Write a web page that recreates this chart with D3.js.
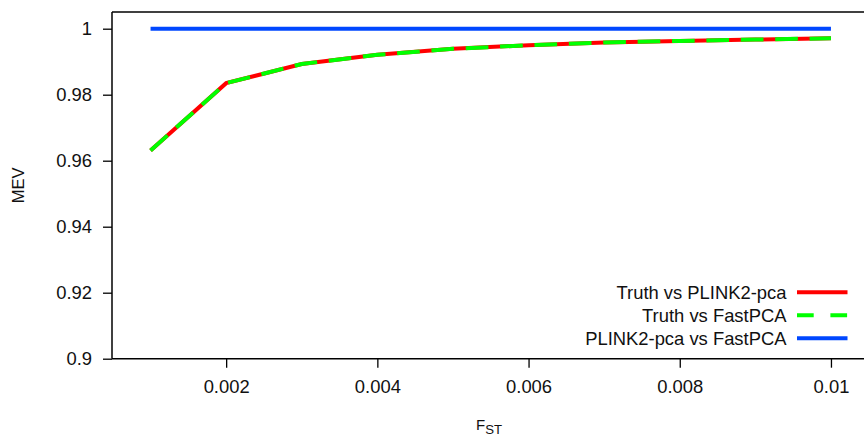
<!DOCTYPE html>
<html>
<head>
<meta charset="utf-8">
<script src="https://cdn.jsdelivr.net/npm/d3@7"></script>
<style>
  html, body { margin: 0; padding: 0; background: #fff; }
  svg { display: block; font-family: "Liberation Sans", Arial, Helvetica, sans-serif; }
</style>
</head>
<body>
<svg id="chart" width="864" height="437"></svg>
<script>
// F_ST values on the x axis
const fst = [0.001, 0.002, 0.003, 0.004, 0.005, 0.006, 0.007, 0.008, 0.009, 0.010];
// MEV for each comparison
const truthVsPlink = [0.9631, 0.9835, 0.9893, 0.9921, 0.9939, 0.9950, 0.9958, 0.9963, 0.9967, 0.9971];
const truthVsFast  = [0.9631, 0.9835, 0.9893, 0.9921, 0.9939, 0.9950, 0.9958, 0.9963, 0.9967, 0.9971];
const plinkVsFast  = [1.0000, 1.0000, 1.0000, 1.0000, 1.0000, 1.0000, 1.0000, 1.0000, 1.0000, 1.0000];
// axis ticks
const xTicks = [0.002, 0.004, 0.006, 0.008, 0.010];
const yTicks = [0.90, 0.92, 0.94, 0.96, 0.98, 1.00];
// legend entries
const legendLabels = ["Truth vs PLINK2-pca", "Truth vs FastPCA", "PLINK2-pca vs FastPCA"];

const svg = d3.select("#chart");
const plotLeft = 112, plotRight = 868, plotBottom = 358.7, plotTop = 12;
const labelSize = 18.4;

const x = d3.scaleLinear().domain([0.00049, 0.01049]).range([plotLeft, plotRight]);
const y = d3.scaleLinear().domain([0.9, 1.0]).range([plotBottom, 28.7]);

// frame: left, bottom and top lines
const frame = svg.append("g").attr("stroke", "#000").attr("stroke-width", 1.5).attr("fill", "none");
frame.append("line").attr("x1", plotLeft).attr("x2", plotLeft).attr("y1", plotTop).attr("y2", plotBottom);
frame.append("line").attr("x1", plotLeft).attr("x2", 864).attr("y1", plotBottom).attr("y2", plotBottom);
frame.append("line").attr("x1", plotLeft).attr("x2", 864).attr("y1", plotTop).attr("y2", plotTop);

// y axis
const yAxis = svg.append("g")
  .attr("transform", `translate(${plotLeft},0)`)
  .call(d3.axisLeft(y).tickValues(yTicks).tickSize(9).tickPadding(11)
    .tickFormat(d => String(+d.toFixed(2))));
yAxis.select(".domain").remove();
yAxis.selectAll(".tick line").attr("stroke", "#000").attr("stroke-width", 1.3);
yAxis.selectAll(".tick text").attr("font-size", labelSize).attr("fill", "#111")
  .attr("font-family", "Liberation Sans, Arial, sans-serif");

// x axis
const xAxis = svg.append("g")
  .attr("transform", `translate(0,${plotBottom})`)
  .call(d3.axisBottom(x).tickValues(xTicks).tickSize(9).tickPadding(12)
    .tickFormat(d => String(+d.toFixed(3))));
xAxis.select(".domain").remove();
xAxis.selectAll(".tick line").attr("stroke", "#000").attr("stroke-width", 1.3);
xAxis.selectAll(".tick text").attr("font-size", labelSize).attr("fill", "#111")
  .attr("font-family", "Liberation Sans, Arial, sans-serif");

// axis titles
svg.append("text")
  .attr("transform", `translate(24,${(plotTop + plotBottom) / 2}) rotate(-90)`)
  .attr("text-anchor", "middle")
  .attr("font-size", 16.5).attr("fill", "#111")
  .text("MEV");

const xt = svg.append("text")
  .attr("x", 476).attr("y", 429.5)
  .attr("font-size", 15).attr("fill", "#111");
xt.append("tspan").text("F");
xt.append("tspan").attr("font-size", 13.2).attr("dy", 4.5).text("ST");

// data lines
const line = d3.line().x(d => x(d[0])).y(d => y(d[1]));
const plot = svg.append("g").attr("fill", "none").attr("stroke-width", 4).attr("stroke-linecap", "butt");

plot.append("path").datum(fst.map((f, i) => [f, truthVsPlink[i]]))
  .attr("stroke", "#ff0000").attr("d", line);
plot.append("path").datum(fst.map((f, i) => [f, truthVsFast[i]]))
  .attr("stroke", "#00ff00").attr("stroke-dasharray", "22.7,11.7").attr("d", line);
plot.append("path").datum(fst.map((f, i) => [f, plinkVsFast[i]]))
  .attr("stroke", "#0047ff").attr("d", line);

// legend
const legendStyles = [
  { color: "#ff0000", dash: null },
  { color: "#00ff00", dash: "16.7,16.7" },
  { color: "#0047ff", dash: null }
];
const legendRows = [292.3, 315.2, 338.3];
const lg = svg.append("g");
legendLabels.forEach((lab, i) => {
  lg.append("text")
    .attr("x", 786.5).attr("y", legendRows[i] + 6.4)
    .attr("text-anchor", "end").attr("font-size", labelSize).attr("fill", "#111")
    .text(lab);
  lg.append("line")
    .attr("x1", 797).attr("x2", 847.5)
    .attr("y1", legendRows[i]).attr("y2", legendRows[i])
    .attr("stroke", legendStyles[i].color).attr("stroke-width", 4)
    .attr("stroke-dasharray", legendStyles[i].dash);
});
</script>
</body>
</html>
